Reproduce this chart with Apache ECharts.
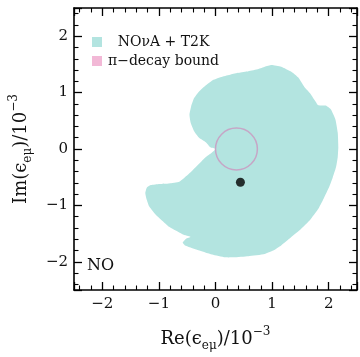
<!DOCTYPE html>
<html><head><meta charset="utf-8">
<script src="https://cdn.jsdelivr.net/npm/echarts@6/dist/echarts.min.js"></script>
<style>html,body{margin:0;padding:0;background:#fff}#c{width:360px;height:357px}</style>
</head><body><div id="c"></div>
<script>
// Allowed-region outline (NOvA + T2K), in units of 1e-3
const outlineRe = [0.00,-0.09,-0.17,-0.29,-0.38,-0.44,-0.46,-0.43,-0.38,-0.29,-0.17,-0.05,0.12,0.27,0.41,0.58,0.76,0.87,0.99,1.16,1.34,1.46,1.57,1.67,1.75,1.81,1.85,1.95,2.04,2.12,2.16,2.17,2.16,2.13,2.07,2.01,1.91,1.81,1.67,1.51,1.33,1.16,1.02,0.87,0.58,0.32,0.17,-0.06,-0.34,-0.54,-0.58,-0.52,-0.44,-0.54,-0.64,-0.82,-0.93,-1.06,-1.17,-1.22,-1.24,-1.21,-1.14,-0.99,-0.82,-0.64,-0.47,-0.29,-0.17,-0.06];
const outlineIm = [0.00,0.03,0.12,0.20,0.32,0.47,0.61,0.76,0.90,1.02,1.13,1.22,1.28,1.32,1.35,1.38,1.42,1.46,1.49,1.46,1.37,1.27,1.10,0.99,0.87,0.78,0.77,0.77,0.70,0.52,0.29,0.03,-0.14,-0.32,-0.51,-0.67,-0.88,-1.07,-1.26,-1.42,-1.57,-1.71,-1.80,-1.86,-1.90,-1.92,-1.92,-1.87,-1.78,-1.71,-1.66,-1.59,-1.56,-1.53,-1.48,-1.38,-1.28,-1.16,-1.02,-0.88,-0.78,-0.68,-0.64,-0.62,-0.61,-0.58,-0.44,-0.26,-0.14,-0.06];
// pi-decay bound circle: [centre Re, centre Im, radius]
const piBound = [0.37, 0.00, 0.37];
// best-fit point
const bestRe = [0.44];
const bestIm = [-0.59];
// axis tick labels
const tickValues = [-2, -1, 0, 1, 2];
const tickLabels = ['\u22122', '\u22121', '0', '1', '2'];
const seriesNames = ['NO\u03bdA + T2K', '\u03c0\u2212decay bound'];

const F = 'DejaVu Serif';
const FILL = '#b3e4e0';
const PINK = '#f2b8d6';
const RING = '#c6a6c6';

function fmt(v) {
  const i = tickValues.findIndex(t => Math.abs(t - v) < 1e-6);
  return i >= 0 ? tickLabels[i] : '';
}
const rich = {
  a: {fontFamily: F, fontSize: 18, lineHeight: 26, color: '#111'},
  b: {fontFamily: F, fontSize: 12, lineHeight: 12, verticalAlign: 'bottom', color: '#111'},
  c: {fontFamily: F, fontSize: 12, lineHeight: 12, verticalAlign: 'top', color: '#111'}
};
function axis(pos, showLabel, name, gap) {
  return {
    type: 'value', min: -2.5, max: 2.5, splitNumber: 5, position: pos,
    axisLine: {onZero: false, lineStyle: {color: '#000', width: 1.6}},
    axisTick: {inside: true, length: 8, lineStyle: {color: '#000', width: 1.3}},
    minorTick: {show: true, splitNumber: 5, length: 4.5, lineStyle: {color: '#000', width: 1.1}},
    splitLine: {show: false},
    axisLabel: {show: showLabel, formatter: fmt, fontFamily: F, fontSize: 15, color: '#111',
      margin: (pos === 'left' ? 6 : 7), showMinLabel: true, showMaxLabel: true},
    name: name || '', nameLocation: 'middle', nameGap: gap || 0,
    nameTextStyle: {rich: rich}
  };
}

const chart = echarts.init(document.getElementById('c'));
chart.setOption({
  animation: false,
  grid: {left: 74, right: 1, top: 8, bottom: 62},
  xAxis: [
    axis('bottom', true, '{a|Re(\u03f5}{b|e\u03bc}{a|)/10}{c|\u22123}', 36),
    axis('top', false)
  ],
  yAxis: [
    axis('left', true, '{a|Im(\u03f5}{b|e\u03bc}{a|)/10}{c|\u22123}', 40),
    axis('right', false)
  ],
  legend: {
    orient: 'vertical', left: 87, top: 30, itemWidth: 10, itemHeight: 10, itemGap: 5,
    icon: 'rect', selectedMode: false,
    data: [{name: seriesNames[0], itemStyle: {color: FILL}}, {name: seriesNames[1], itemStyle: {color: PINK}}],
    formatter: n => '{t|' + n + '}',
    textStyle: {fontFamily: F, fontSize: 14, color: '#111',
      rich: {t: {width: 113, align: 'center', fontFamily: F, fontSize: 14, color: '#111'}}}
  },
  graphic: [{type: 'text', left: 87, top: 258, z: 10,
    style: {text: 'NO', font: '16px "DejaVu Serif"', fill: '#111'}}],
  series: [
    {
      type: 'custom', name: seriesNames[0], silent: true, z: 1,
      itemStyle: {color: FILL},
      data: outlineRe.map((x, i) => [x, outlineIm[i]]),
      encode: {x: 0, y: 1},
      renderItem: function (params, api) {
        if (params.dataIndex !== 0) return null;
        const pts = outlineRe.map((x, i) => api.coord([x, outlineIm[i]]));
        return {type: 'polygon', shape: {points: pts, smooth: 0.15}, style: {fill: FILL}};
      }
    },
    {
      type: 'custom', name: seriesNames[1], silent: true, z: 2,
      itemStyle: {color: PINK},
      data: [piBound],
      encode: {x: 0, y: 1},
      renderItem: function (params, api) {
        const c = api.coord([api.value(0), api.value(1)]);
        const s = api.size([api.value(2), api.value(2)]);
        return {type: 'circle', shape: {cx: c[0], cy: c[1], r: s[0]},
          style: {fill: 'none', stroke: RING, lineWidth: 1.5}};
      }
    },
    {
      type: 'scatter', name: 'best fit', silent: true, z: 3,
      symbolSize: 9, itemStyle: {color: '#000'},
      data: bestRe.map((x, i) => [x, bestIm[i]])
    }
  ]
});
</script></body></html>
